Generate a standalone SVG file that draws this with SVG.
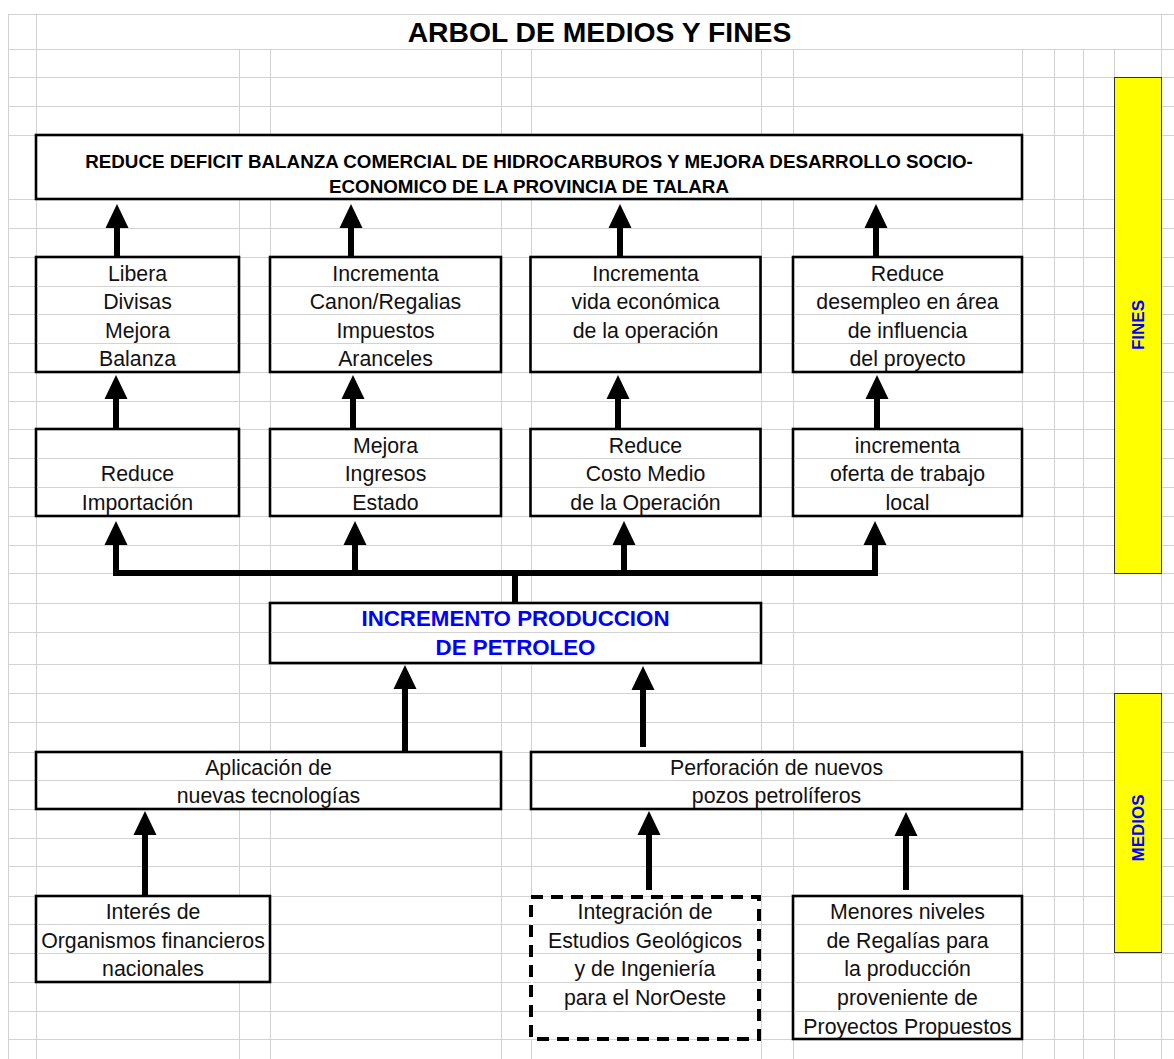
<svg xmlns="http://www.w3.org/2000/svg" width="1174" height="1059" viewBox="0 0 1174 1059">
  <style>
    .grid { stroke: #d2d2d2; stroke-width: 1; fill: none; }
    .box { fill: #ffffff; stroke: #000000; stroke-width: 2.6; }
    .dash { fill: #ffffff; stroke: #000000; stroke-width: 4; stroke-dasharray: 12 8; }
    .band { fill: #ffff00; stroke: #333333; stroke-width: 1; }
    .t { font-family: "Liberation Sans", Arial, sans-serif; font-size: 21.3px; text-anchor: middle; fill: #111111; }
    .hd { font-weight: bold; font-size: 18.8px; fill: #000000; }
    .blue { font-weight: bold; fill: #0000ff; font-size: 22.3px; }
    .side { font-weight: bold; fill: #0000ff; font-size: 17px; }
    .title { font-weight: bold; font-size: 28.3px; fill: #000000; }
    .conn { stroke: #000000; stroke-width: 6; fill: none; }
    .arrow { marker-end: url(#head); }
  </style>
  <defs>
    <marker id="head" markerUnits="userSpaceOnUse" markerWidth="24" markerHeight="24" viewBox="0 -12 24 24" refX="0" refY="0" orient="auto" overflow="visible">
      <path d="M0,-11.5 L24,0 L0,11.5 Z" fill="#000000"/>
    </marker>
  </defs>

  <rect width="1174" height="1059" fill="#ffffff"/>

  <!-- spreadsheet grid -->
  <g id="grid">
    <path class="grid" d="M8 14.5H1174 M8 49.5H1174 M8 77.5H1174 M8 106.5H1174 M8 135.5H1174 M8 199.5H1174 M8 228.5H1174 M8 257.5H1174 M8 286.5H1174 M8 314.5H1174 M8 343.5H1174 M8 372.5H1174 M8 401.5H1174 M8 429.5H1174 M8 458.5H1174 M8 487.5H1174 M8 516.5H1174 M8 545.5H1174 M8 573.5H1174 M8 603.5H1174 M8 632.5H1174 M8 664.5H1174 M8 693.5H1174 M8 722.5H1174 M8 752.5H1174 M8 780.5H1174 M8 809.5H1174 M8 838.5H1174 M8 866.5H1174 M8 896.5H1174 M8 924.5H1174 M8 953.5H1174 M8 982.5H1174 M8 1011.5H1174 M8 1039.5H1174"/>
    <path class="grid" d="M8.5 14V1059 M36.5 14V1059 M1161.5 14V1059 M239.5 49V1059 M270.5 49V1059 M501.5 49V1059 M531.5 49V1059 M761.5 49V1059 M793.5 49V1059 M1022.5 49V1059 M1054.5 49V1059 M1083.5 49V1059 M1114.5 49V1059"/>
  </g>

  <!-- title row -->
  <rect x="37" y="15" width="1124" height="34" fill="#ffffff"/>
  <text class="t title" x="599.5" y="42">ARBOL DE MEDIOS Y FINES</text>

  <!-- side bands -->
  <g id="label-fines">
    <rect class="band" x="1114.5" y="77.5" width="47" height="496"/>
    <text class="t side" x="1137.5" y="331" transform="rotate(-90 1137.5 325)">FINES</text>
  </g>
  <g id="label-medios">
    <rect class="band" x="1114.5" y="693.5" width="47" height="259"/>
    <text class="t side" x="1137.5" y="834" transform="rotate(-90 1137.5 828)">MEDIOS</text>
  </g>

  <!-- connectors -->
  <g id="connectors">
    <line class="conn arrow" x1="117" y1="257" x2="117" y2="228"/>
    <line class="conn arrow" x1="351" y1="257" x2="351" y2="228"/>
    <line class="conn arrow" x1="620" y1="257" x2="620" y2="228"/>
    <line class="conn arrow" x1="876" y1="257" x2="876" y2="228"/>

    <line class="conn arrow" x1="116" y1="429" x2="116" y2="399"/>
    <line class="conn arrow" x1="353" y1="429" x2="353" y2="399"/>
    <line class="conn arrow" x1="618" y1="429" x2="618" y2="399"/>
    <line class="conn arrow" x1="877" y1="429" x2="877" y2="399"/>

    <path class="conn" d="M116,573 H875 M515,573 V603"/>
    <line class="conn arrow" x1="116" y1="576" x2="116" y2="545"/>
    <line class="conn arrow" x1="355" y1="576" x2="355" y2="545"/>
    <line class="conn arrow" x1="624" y1="576" x2="624" y2="545"/>
    <line class="conn arrow" x1="875" y1="576" x2="875" y2="545"/>

    <line class="conn arrow" x1="405" y1="752" x2="405" y2="689"/>
    <line class="conn arrow" x1="643" y1="747" x2="643" y2="690"/>

    <line class="conn arrow" x1="145" y1="896" x2="145" y2="835"/>
    <line class="conn arrow" x1="649" y1="890" x2="649" y2="835"/>
    <line class="conn arrow" x1="906" y1="890" x2="906" y2="836"/>
  </g>

  <!-- goal -->
  <g id="n-top">
    <rect class="box" x="36" y="135" width="986" height="64"/>
    <text class="t hd" x="529" y="168">REDUCE DEFICIT BALANZA COMERCIAL DE HIDROCARBUROS Y MEJORA DESARROLLO SOCIO-</text>
    <text class="t hd" x="529" y="193">ECONOMICO DE LA PROVINCIA DE TALARA</text>
  </g>

  <!-- ends, first level -->
  <g id="n-a1">
    <rect class="box" x="36" y="257" width="203" height="115"/>
    <path class="grid" d="M37 286.5H238 M37 314.5H238 M37 343.5H238"/>
    <text class="t" x="137.5" y="281">Libera</text>
    <text class="t" x="137.5" y="309">Divisas</text>
    <text class="t" x="137.5" y="337.5">Mejora</text>
    <text class="t" x="137.5" y="366">Balanza</text>
  </g>
  <g id="n-a2">
    <rect class="box" x="270" y="257" width="231" height="115"/>
    <path class="grid" d="M271 286.5H500 M271 314.5H500 M271 343.5H500"/>
    <text class="t" x="385.5" y="281">Incrementa</text>
    <text class="t" x="385.5" y="309">Canon/Regalias</text>
    <text class="t" x="385.5" y="337.5">Impuestos</text>
    <text class="t" x="385.5" y="366">Aranceles</text>
  </g>
  <g id="n-a3">
    <rect class="box" x="530.5" y="257" width="230" height="115"/>
    <path class="grid" d="M532 286.5H759 M532 314.5H759 M532 343.5H759"/>
    <text class="t" x="645.5" y="281">Incrementa</text>
    <text class="t" x="645.5" y="309">vida económica</text>
    <text class="t" x="645.5" y="337.5">de la operación</text>
  </g>
  <g id="n-a4">
    <rect class="box" x="793" y="257" width="229" height="115"/>
    <path class="grid" d="M794 286.5H1021 M794 314.5H1021 M794 343.5H1021"/>
    <text class="t" x="907.5" y="281">Reduce</text>
    <text class="t" x="907.5" y="309">desempleo en área</text>
    <text class="t" x="907.5" y="337.5">de influencia</text>
    <text class="t" x="907.5" y="366">del proyecto</text>
  </g>

  <!-- ends, second level -->
  <g id="n-b1">
    <rect class="box" x="36" y="429" width="203" height="87"/>
    <path class="grid" d="M37 458.5H238 M37 487.5H238"/>
    <text class="t" x="137.5" y="481">Reduce</text>
    <text class="t" x="137.5" y="509.5">Importación</text>
  </g>
  <g id="n-b2">
    <rect class="box" x="270" y="429" width="231" height="87"/>
    <path class="grid" d="M271 458.5H500 M271 487.5H500"/>
    <text class="t" x="385.5" y="452.5">Mejora</text>
    <text class="t" x="385.5" y="481">Ingresos</text>
    <text class="t" x="385.5" y="509.5">Estado</text>
  </g>
  <g id="n-b3">
    <rect class="box" x="530.5" y="429" width="230" height="87"/>
    <path class="grid" d="M532 458.5H759 M532 487.5H759"/>
    <text class="t" x="645.5" y="452.5">Reduce</text>
    <text class="t" x="645.5" y="481">Costo Medio</text>
    <text class="t" x="645.5" y="509.5">de la Operación</text>
  </g>
  <g id="n-b4">
    <rect class="box" x="793" y="429" width="229" height="87"/>
    <path class="grid" d="M794 458.5H1021 M794 487.5H1021"/>
    <text class="t" x="907.5" y="452.5">incrementa</text>
    <text class="t" x="907.5" y="481">oferta de trabajo</text>
    <text class="t" x="907.5" y="509.5">local</text>
  </g>

  <!-- central objective -->
  <g id="n-core">
    <rect class="box" x="270" y="603" width="491" height="60"/>
    <path class="grid" d="M271 632.5H760"/>
    <text class="t blue" x="515.5" y="625.5">INCREMENTO PRODUCCION</text>
    <text class="t blue" x="515.5" y="655">DE PETROLEO</text>
  </g>

  <!-- means, first level -->
  <g id="n-m1">
    <rect class="box" x="36" y="752" width="465" height="57"/>
    <path class="grid" d="M37 780.5H500"/>
    <text class="t" x="268.5" y="774.5">Aplicación de</text>
    <text class="t" x="268.5" y="803">nuevas tecnologías</text>
  </g>
  <g id="n-m2">
    <rect class="box" x="531" y="752" width="491" height="57"/>
    <path class="grid" d="M532 780.5H1021"/>
    <text class="t" x="776.5" y="774.5">Perforación de nuevos</text>
    <text class="t" x="776.5" y="803">pozos petrolíferos</text>
  </g>

  <!-- means, second level -->
  <g id="n-r1">
    <rect class="box" x="36" y="896" width="234" height="86"/>
    <path class="grid" d="M37 924.5H269 M37 953.5H269"/>
    <text class="t" x="153" y="918.5">Interés de</text>
    <text class="t" x="153" y="947.5">Organismos financieros</text>
    <text class="t" x="153" y="976">nacionales</text>
  </g>
  <g id="n-r2">
    <rect class="dash" x="531" y="897" width="228" height="142"/>
    <path class="grid" d="M533 924.5H757 M533 953.5H757 M533 982.5H757 M533 1011.5H757"/>
    <text class="t" x="645" y="918.5">Integración de</text>
    <text class="t" x="645" y="947.5">Estudios Geológicos</text>
    <text class="t" x="645" y="976">y de Ingeniería</text>
    <text class="t" x="645" y="1005">para el NorOeste</text>
  </g>
  <g id="n-r3">
    <rect class="box" x="793" y="896" width="229" height="143"/>
    <path class="grid" d="M794 924.5H1021 M794 953.5H1021 M794 982.5H1021 M794 1011.5H1021"/>
    <text class="t" x="907.5" y="918.5">Menores niveles</text>
    <text class="t" x="907.5" y="947.5">de Regalías para</text>
    <text class="t" x="907.5" y="976">la producción</text>
    <text class="t" x="907.5" y="1005">proveniente de</text>
    <text class="t" x="907.5" y="1033.5">Proyectos Propuestos</text>
  </g>
</svg>
